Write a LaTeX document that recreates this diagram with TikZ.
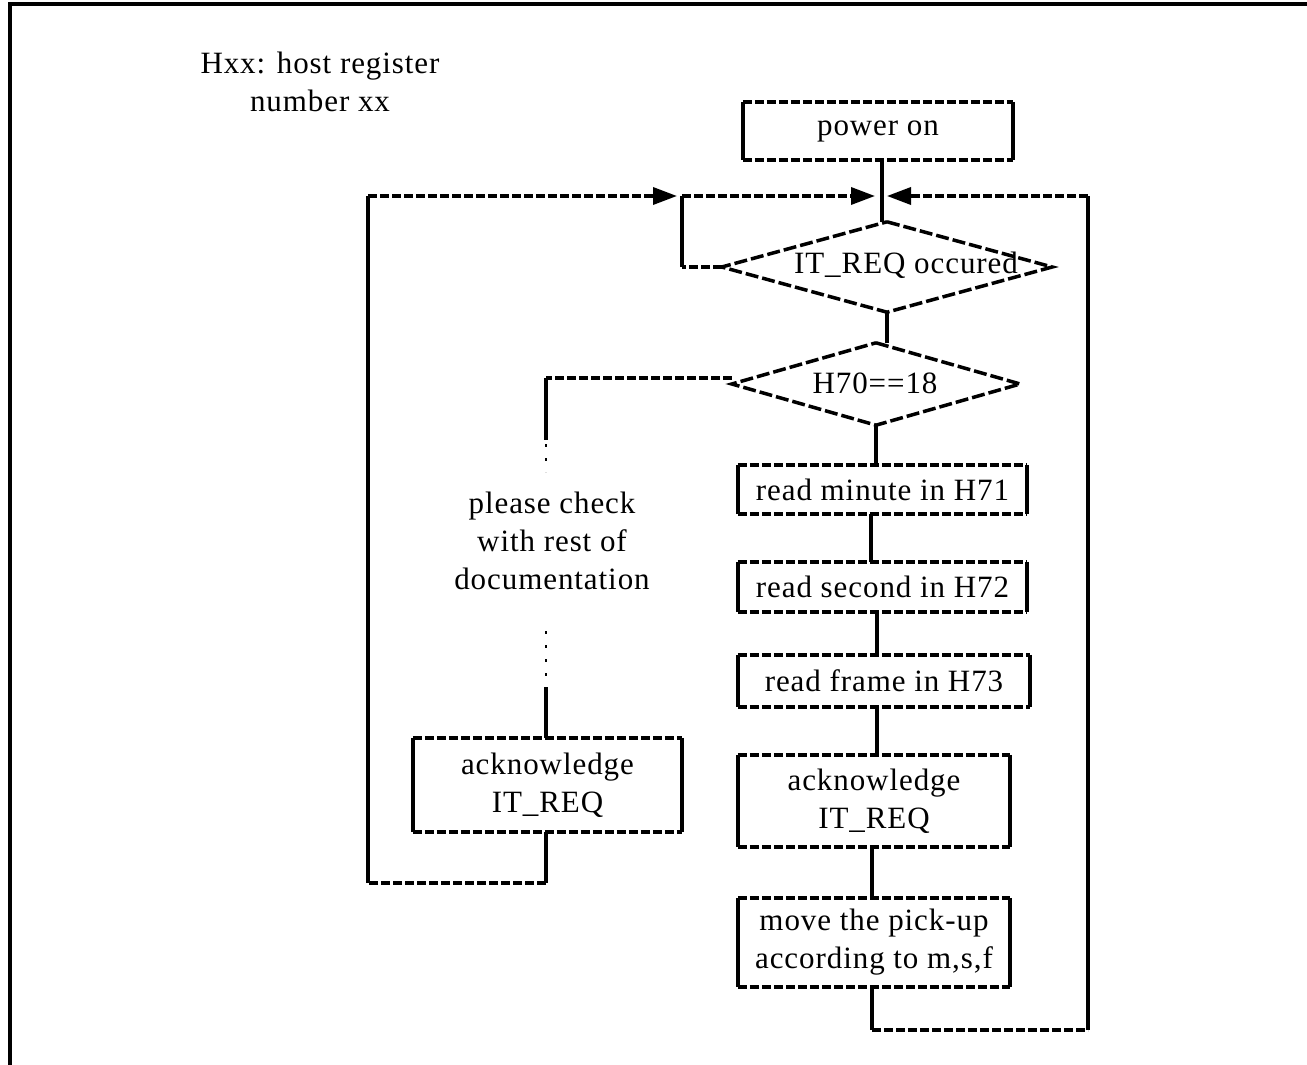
\documentclass[tikz,border=0pt]{standalone}
\usepackage{fontspec}
\setmainfont{Liberation Serif}[LetterSpace=3]
\usetikzlibrary{arrows.meta,shapes.geometric}
\tikzset{
  txt/.style={font=\fontsize{31}{38}\selectfont, align=center, inner sep=0pt},
  hd/.style={line width=3.5pt, dash pattern=on 9pt off 3pt},
  vs/.style={line width=3.5pt},
  dg/.style={line width=3.5pt, dash pattern=on 13pt off 4pt},
  dotl/.style={line width=2pt, dash pattern=on 3pt off 11pt},
  tip/.style={-{Triangle[length=24pt,width=17pt]}},
}
\newcommand\boxedges[1]{%
  \draw[hd] (#1.north west) -- (#1.north east);
  \draw[hd] (#1.south west) -- (#1.south east);
  \draw[vs] (#1.north west) -- (#1.south west);
  \draw[vs] (#1.north east) -- (#1.south east);}
\begin{document}
\begin{tikzpicture}[x=1pt,y=-1pt]
\useasboundingbox (0,0) rectangle (1307,1065);
% frame
\draw[line width=4.5pt] (10,1065) -- (10,4) -- (1307,4);
% legend
\node[txt] (legend) at (320,82) {Hxx: host register\\number xx};
% boxes
\node[txt, minimum width=270pt, minimum height=58pt] (pwr) at (878,131) {power on};
\node[txt, minimum width=289pt, minimum height=49pt] (rmin) at (882.5,489.5) {read minute in H71};
\node[txt, minimum width=289pt, minimum height=50pt] (rsec) at (882.5,587) {read second in H72};
\node[txt, minimum width=292pt, minimum height=52pt] (rfrm) at (884,681) {read frame in H73};
\node[txt, minimum width=272pt, minimum height=92pt] (ackR) at (874,801) {acknowledge\\IT\_REQ};
\node[txt, minimum width=272pt, minimum height=89pt] (move) at (874,942.5) {move the pick-up\\according to m,s,f};
\node[txt, minimum width=269pt, minimum height=94pt] (ackL) at (547.5,785) {acknowledge\\IT\_REQ};
\foreach \b in {pwr,rmin,rsec,rfrm,ackR,move,ackL} {\boxedges{\b}}
% diamonds
\node[diamond, inner sep=0pt, minimum width=330pt, minimum height=90pt, aspect=3.67] (d1) at (887,267) {};
\draw[dg] (d1.north) -- (d1.east) -- (d1.south) -- (d1.west) -- cycle;
\node[txt] (d1t) at (906,265) {IT\_REQ occured};
\node[diamond, inner sep=0pt, minimum width=288pt, minimum height=82pt, aspect=3.5] (d2) at (876,384) {};
\draw[dg] (d2.north) -- (d2.east) -- (d2.south) -- (d2.west) -- cycle;
\node[txt] (d2t) at (875,383) {H70==18};
% note
\node[txt] (note) at (552,541) {please check\\with rest of\\documentation};
% junction coordinates
\coordinate (jl) at (875,196);
\coordinate (jr) at (887,196);
\coordinate (jla) at (677,196);
% main column
\draw[vs] (pwr.south -| 882,0) -- (882,222);
\draw[vs] (d1.south) -- (d1.south |- d2.north);
\draw[vs] (d2.south) -- (d2.south |- rmin.north);
\draw[vs] (871,514) -- (871,562);
\draw[vs] (877,612) -- (877,655);
\draw[vs] (877,707) -- (877,755);
\draw[vs] (872,847) -- (872,898);
% inner "no" loop of d1
\coordinate (c1) at (682,267);
\coordinate (c2) at (682,196);
\draw[hd] (d1.west) -- (c1);
\draw[vs] (c1) -- (c2);
\draw[hd,tip] (c2) -- (jl);
% right loop
\coordinate (r1) at (872,1030);
\coordinate (r2) at (1088,1030);
\coordinate (r3) at (1088,196);
\draw[vs] (move.south -| 872,0) -- (r1);
\draw[hd] (r1) -- (r2);
\draw[vs] (r2) -- (r3);
\draw[hd,tip] (r3) -- (jr);
% left branch of d2
\coordinate (b1) at (546,378);
\draw[hd] (d2.west |- 0,378) -- (b1);
\draw[vs] (b1) -- (546,440);
\draw[dotl] (546,444) -- (546,472);
\draw[dotl] (546,631) -- (546,680);
\draw[vs] (546,687) -- (ackL.north -| 546,0);
% outer left loop
\coordinate (l1) at (546,883);
\coordinate (l2) at (368,883);
\coordinate (l3) at (368,196);
\draw[vs] (ackL.south -| 546,0) -- (l1);
\draw[hd] (l1) -- (l2);
\draw[vs] (l2) -- (l3);
\draw[hd,tip] (l3) -- (jla);
\end{tikzpicture}
\end{document}
